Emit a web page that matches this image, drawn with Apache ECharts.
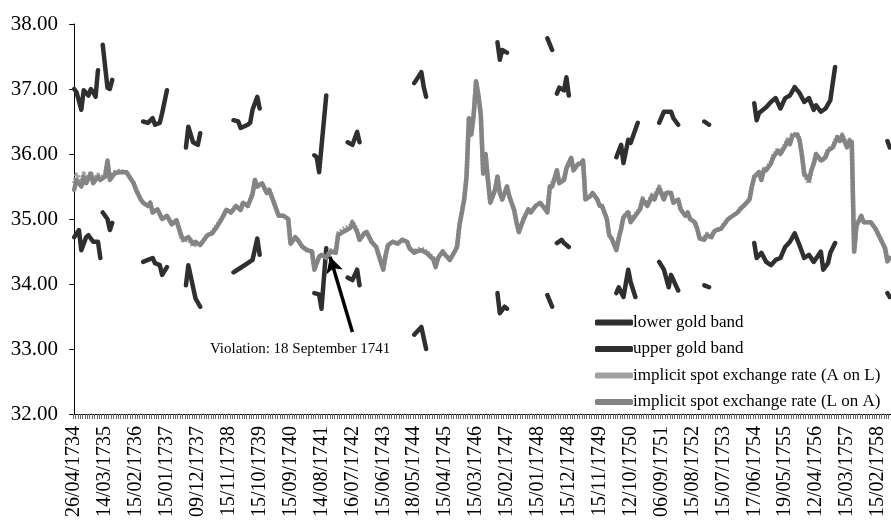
<!DOCTYPE html>
<html><head><meta charset="utf-8">
<script src="https://cdn.jsdelivr.net/npm/echarts@6/dist/echarts.min.js"></script>
<style>html,body{margin:0;padding:0;background:#fff}#c{width:891px;height:525px}</style>
</head><body><div id="c"></div>
<script>
// Tick labels (one every 13 observations)
const tickLabels = ['26/04/1734','14/03/1735','15/02/1736','15/01/1737','09/12/1737','15/11/1738','15/10/1739','15/09/1740','14/08/1741','16/07/1742','15/06/1743','18/05/1744','15/04/1745','15/03/1746','15/02/1747','15/01/1748','15/12/1748','15/11/1749','12/10/1750','06/09/1751','15/08/1752','15/07/1753','17/06/1754','19/05/1755','12/04/1756','15/03/1757','15/02/1758'];
const nObs = 344;
const labelStep = 13;

// [observation index, value]
const spotLonA = [[0,35.45],[1,35.6],[3,35.5],[4,35.65],[5,35.55],[7,35.7],[8,35.55],[10,35.65],[11,35.6],[13,35.65],[14,35.9],[15,35.6],[17,35.7],[19,35.72],[22,35.72],[25,35.55],[26,35.45],[28,35.3],[29,35.25],[31,35.2],[32,35.25],[33,35.1],[35,35.15],[37,35.0],[39,35.05],[41,34.92],[43,34.98],[45,34.75],[46,34.68],[48,34.72],[50,34.62],[51,34.65],[53,34.6],[55,34.7],[56,34.75],[58,34.78],[60,34.88],[62,35.0],[64,35.14],[66,35.1],[68,35.2],[70,35.14],[71,35.25],[73,35.2],[75,35.38],[76,35.6],[77,35.5],[79,35.55],[81,35.4],[82,35.45],[84,35.25],[86,35.05],[88,35.05],[90,35.0],[91,34.62],[93,34.72],[94,34.68],[96,34.57],[98,34.52],[100,34.5],[101,34.22],[103,34.42],[104,34.45],[106,34.4],[108,34.5],[110,34.48],[111,34.75],[113,34.8],[114,34.82],[116,34.86],[117,34.94],[119,34.8],[120,34.68],[122,34.78],[123,34.8],[125,34.65],[127,34.57],[128,34.45],[130,34.22],[131,34.45],[132,34.6],[134,34.65],[136,34.62],[138,34.68],[140,34.65],[141,34.55],[143,34.48],[144,34.5],[146,34.52],[148,34.48],[149,34.45],[151,34.38],[152,34.26],[153,34.4],[155,34.5],[156,34.45],[158,34.37],[160,34.5],[161,34.57],[162,34.9],[164,35.3],[165,35.65],[166,36.55],[167,36.3],[168,36.6],[169,37.12],[170,36.9],[171,36.6],[172,35.7],[173,36.0],[174,35.6],[175,35.25],[177,35.45],[178,35.65],[179,35.4],[180,35.3],[182,35.5],[183,35.35],[185,35.14],[186,34.95],[187,34.8],[189,35.0],[191,35.15],[192,35.1],[194,35.2],[196,35.25],[197,35.2],[199,35.1],[200,35.5],[201,35.5],[203,35.75],[204,35.55],[206,35.6],[207,35.78],[209,35.94],[210,35.75],[212,35.85],[213,35.85],[214,35.9],[215,35.3],[217,35.35],[218,35.4],[220,35.3],[221,35.2],[222,35.2],[224,35.0],[225,34.75],[226,34.7],[228,34.52],[229,34.7],[230,34.85],[231,35.03],[233,35.1],[234,34.95],[236,35.05],[238,35.15],[239,35.3],[241,35.2],[243,35.35],[244,35.3],[245,35.4],[246,35.47],[248,35.3],[249,35.4],[251,35.4],[252,35.25],[254,35.3],[255,35.15],[257,35.05],[258,35.1],[259,35.0],[261,34.95],[262,34.85],[263,34.7],[265,34.68],[266,34.75],[268,34.72],[269,34.8],[270,34.83],[272,34.85],[274,34.95],[275,35.0],[277,35.05],[279,35.1],[280,35.15],[282,35.22],[284,35.3],[285,35.5],[286,35.65],[288,35.72],[289,35.6],[290,35.75],[291,35.75],[293,35.85],[294,35.95],[296,36.05],[297,36.0],[299,36.12],[300,36.2],[301,36.15],[302,36.28],[304,36.3],[305,36.22],[306,36.0],[307,35.7],[309,35.6],[310,35.75],[311,35.85],[312,36.0],[314,35.9],[315,35.92],[316,35.95],[317,36.05],[319,36.1],[321,36.26],[322,36.2],[323,36.28],[325,36.1],[326,36.2],[327,36.18],[328,34.5],[329,34.9],[331,35.05],[332,34.95],[334,34.95],[335,34.95],[337,34.85],[339,34.7],[341,34.55],[342,34.35],[343,34.4]];

const spotAonL = [[0,35.55],[1,35.68],[3,35.58],[4,35.7],[5,35.6],[7,35.72],[8,35.6],[10,35.68],[11,35.62],[13,35.68],[14,35.88],[15,35.62],[17,35.72],[19,35.74],[22,35.72],[25,35.55],[26,35.45],[28,35.3],[29,35.25],[31,35.2],[32,35.25],[33,35.1],[35,35.15],[37,35.0],[39,35.05],[41,34.92],[43,34.98],[45,34.72],[46,34.65],[48,34.7],[50,34.58],[51,34.62],[53,34.6],[55,34.7],[56,34.75],[58,34.8],[60,34.9],[62,35.0],[64,35.14],[66,35.1],[68,35.2],[70,35.14],[71,35.25],[73,35.2],[75,35.4],[76,35.6],[77,35.5],[79,35.55],[81,35.4],[82,35.45],[84,35.25],[86,35.05],[88,35.05],[90,35.0],[91,34.62],[93,34.72],[94,34.68],[96,34.57],[98,34.52],[100,34.5],[101,34.25],[103,34.42],[104,34.45],[106,34.42],[108,34.52],[110,34.5],[111,34.78],[113,34.84],[114,34.86],[116,34.9],[117,34.96],[119,34.82],[120,34.68],[122,34.78],[123,34.8],[125,34.65],[127,34.57],[128,34.45],[130,34.24],[131,34.45],[132,34.6],[134,34.65],[136,34.62],[138,34.68],[140,34.65],[141,34.55],[143,34.5],[144,34.52],[146,34.55],[148,34.5],[149,34.47],[151,34.4],[152,34.28],[153,34.4],[155,34.5],[156,34.45],[158,34.37],[160,34.5],[161,34.57],[162,34.9],[164,35.3],[165,35.65],[166,36.55],[167,36.3],[168,36.6],[169,37.12],[170,36.9],[171,36.6],[172,35.7],[173,36.0],[174,35.6],[175,35.25],[177,35.45],[178,35.65],[179,35.4],[180,35.3],[182,35.5],[183,35.35],[185,35.14],[186,34.95],[187,34.8],[189,35.0],[191,35.15],[192,35.1],[194,35.2],[196,35.25],[197,35.2],[199,35.15],[200,35.45],[201,35.55],[203,35.72],[204,35.55],[206,35.62],[207,35.78],[209,35.94],[210,35.75],[212,35.85],[213,35.85],[214,35.9],[215,35.3],[217,35.35],[218,35.4],[220,35.3],[221,35.2],[222,35.2],[224,35.0],[225,34.75],[226,34.7],[228,34.55],[229,34.72],[230,34.85],[231,35.03],[233,35.12],[234,34.97],[236,35.07],[238,35.17],[239,35.32],[241,35.22],[243,35.37],[244,35.32],[245,35.42],[246,35.5],[248,35.32],[249,35.42],[251,35.4],[252,35.25],[254,35.3],[255,35.15],[257,35.05],[258,35.1],[259,35.0],[261,34.95],[262,34.85],[263,34.72],[265,34.7],[266,34.77],[268,34.74],[269,34.8],[270,34.83],[272,34.85],[274,34.95],[275,35.0],[277,35.05],[279,35.1],[280,35.15],[282,35.22],[284,35.3],[285,35.5],[286,35.65],[288,35.72],[289,35.62],[290,35.77],[291,35.77],[293,35.88],[294,35.98],[296,36.08],[297,36.02],[299,36.15],[300,36.22],[301,36.18],[302,36.3],[304,36.32],[305,36.22],[306,35.98],[307,35.68],[309,35.55],[310,35.75],[311,35.85],[312,36.0],[314,35.9],[315,35.92],[316,35.97],[317,36.07],[319,36.12],[321,36.28],[322,36.22],[323,36.3],[325,36.12],[326,36.22],[327,36.18],[328,34.5],[329,34.9],[331,35.05],[332,34.95],[334,34.95],[335,34.95],[337,34.85],[339,34.7],[341,34.55],[342,34.35],[343,34.4]];

// Gold band segments (gaps between them)
const upperBand = [
  [[0,37.0],[1,36.95],[3,36.68],[4,36.98],[6,36.9],[7,37.0],[8,36.95],[9,36.88],[10,37.29]],
  [[12,37.68],[14,37.02],[15,37.0],[16,37.14]],
  [[29,36.5],[31,36.48],[33,36.55],[34,36.45],[36,36.48],[37,36.63],[39,36.98]],
  [[47,36.1],[48,36.42],[50,36.18],[52,36.14],[53,36.32]],
  [[67,36.52],[69,36.5],[70,36.4],[73,36.45],[74,36.48],[75,36.68],[77,36.88],[78,36.7]],
  [[101,35.98],[102,35.95],[103,35.72],[106,36.9]],
  [[115,36.18],[117,36.14],[119,36.34],[120,36.18]],
  [[143,37.09],[146,37.26],[147,37.03],[148,36.88]],
  [[178,37.72],[179,37.45],[180,37.6],[182,37.56]],
  [[199,37.78],[201,37.6]],
  [[203,36.93],[204,37.02],[206,36.98],[207,37.18],[208,36.9]],
  [[228,35.95],[230,36.14],[231,35.86],[233,36.22],[234,36.17],[237,36.48]],
  [[246,36.48],[248,36.65],[251,36.65],[252,36.55],[254,36.45]],
  [[265,36.5],[267,36.45]],
  [[286,36.78],[287,36.52],[288,36.63],[291,36.72],[293,36.8],[295,36.86],[297,36.7],[299,36.86],[301,36.9],[303,37.03],[305,36.94],[307,36.8],[309,36.86],[311,36.68],[312,36.75],[314,36.65],[316,36.7],[318,36.83],[319,37.09],[320,37.34]],
  [[342,36.2],[343,36.1]]
];
const lowerBand = [
  [[0,34.72],[2,34.83],[3,34.52],[5,34.72],[6,34.75],[8,34.65],[10,34.65],[11,34.4]],
  [[12,35.1],[14,35.0],[15,34.83],[16,34.94]],
  [[29,34.34],[31,34.37],[33,34.4],[34,34.32],[36,34.29],[37,34.14],[39,34.26]],
  [[47,33.98],[48,34.29],[50,33.95],[51,33.78],[53,33.65]],
  [[67,34.18],[70,34.25],[73,34.32],[75,34.37],[77,34.7],[78,34.45]],
  [[101,33.86],[103,33.84],[104,33.62],[106,34.55]],
  [[115,34.1],[117,34.06],[119,34.22],[120,33.98]],
  [[143,33.22],[146,33.34],[147,33.17],[148,33.0]],
  [[178,33.86],[179,33.55],[181,33.65],[182,33.62]],
  [[199,33.83],[201,33.65]],
  [[203,34.63],[205,34.68],[206,34.63],[208,34.57]],
  [[228,33.86],[229,33.95],[231,33.8],[233,34.22],[234,34.03],[236,33.8]],
  [[246,34.34],[248,34.22],[250,33.95],[251,34.14],[254,33.9]],
  [[265,33.98],[267,33.95]],
  [[286,34.63],[287,34.4],[289,34.48],[291,34.34],[293,34.29],[295,34.37],[297,34.4],[299,34.57],[301,34.65],[303,34.78],[305,34.6],[307,34.4],[309,34.45],[311,34.34],[314,34.5],[315,34.22],[317,34.32],[318,34.48],[320,34.63]],
  [[342,33.86],[343,33.8]]
];

const yTicks = [32, 33, 34, 35, 36, 37, 38];
const annotationText = 'Violation: 18 September 1741';
const annotationAt = [95, 33.0];
const arrowFrom = [117, 33.26];
const arrowTo = [107.6, 34.42];

function joinSegments(segs) {
  const out = [];
  segs.forEach((s, k) => {
    if (k > 0) out.push([s[0][0] - 0.5, '-']);
    s.forEach(p => out.push(p));
  });
  return out;
}

const categories = Array.from({length: nObs}, (_, i) =>
  (i % labelStep === 0 && tickLabels[i / labelStep]) ? tickLabels[i / labelStep] : '');

const serif = '"Liberation Serif", "Times New Roman", serif';
const chart = echarts.init(document.getElementById('c'));
chart.setOption({
  animation: false,
  backgroundColor: '#fff',
  grid: {left: 73, right: 0, top: 24, bottom: 111, containLabel: false},
  legend: {
    orient: 'vertical', left: 590, top: 309, itemGap: 9.5, itemWidth: 38, itemHeight: 6,
    icon: 'roundRect',
    textStyle: {fontFamily: serif, fontSize: 17, lineHeight: 17, color: '#000', padding: [0,0,0,-5]},
    data: ['lower gold band', 'upper gold band', 'implicit spot exchange rate (A on L)', 'implicit spot exchange rate (L on A)']
  },
  xAxis: [{
    type: 'category', data: categories, boundaryGap: true,
    axisLine: {lineStyle: {color: '#000', width: 1}},
    axisTick: {show: true, interval: 0, length: 5, lineStyle: {color: '#666', width: 1}},
    axisLabel: {interval: (i) => i % labelStep === 0, rotate: 90, margin: 12, fontFamily: serif, fontSize: 20, color: '#000'},
    splitLine: {show: false}
  }, {
    type: 'value', min: -0.5, max: nObs - 0.5, show: false
  }],
  yAxis: {
    type: 'value', min: yTicks[0], max: yTicks[yTicks.length - 1], interval: 1,
    axisLine: {show: true, lineStyle: {color: '#000', width: 1}},
    axisTick: {show: true, length: 5, lineStyle: {color: '#000'}},
    axisLabel: {formatter: v => v.toFixed(2), fontFamily: serif, fontSize: 21, color: '#000', margin: 15},
    splitLine: {show: false}
  },
  series: [{
    name: 'lower gold band', type: 'line', xAxisIndex: 1, showSymbol: false, symbol: 'none',
    connectNulls: false, data: joinSegments(lowerBand),
    lineStyle: {color: '#2f2f2f', width: 4.5, cap: 'round', join: 'round'}, itemStyle: {color: '#2f2f2f'}
  }, {
    name: 'upper gold band', type: 'line', xAxisIndex: 1, showSymbol: false, symbol: 'none',
    connectNulls: false, data: joinSegments(upperBand),
    lineStyle: {color: '#2f2f2f', width: 4.5, cap: 'round', join: 'round'}, itemStyle: {color: '#2f2f2f'}
  }, {
    name: 'implicit spot exchange rate (A on L)', type: 'line', xAxisIndex: 1, showSymbol: false, symbol: 'none',
    data: spotAonL,
    lineStyle: {color: '#a0a0a0', width: 4.5, type: [2, 1.5], join: 'round'}, itemStyle: {color: '#a0a0a0'}
  }, {
    name: 'implicit spot exchange rate (L on A)', type: 'line', xAxisIndex: 1, showSymbol: false, symbol: 'none',
    data: spotLonA,
    lineStyle: {color: '#848484', width: 4.5, cap: 'round', join: 'round'}, itemStyle: {color: '#848484'},
    markLine: {
      silent: true, animation: false, symbol: ['none', 'arrow'], symbolSize: [13, 16],
      lineStyle: {color: '#000', width: 3.5, type: 'solid'},
      label: {show: false},
      data: [[{coord: arrowFrom}, {coord: arrowTo}]]
    },
    markPoint: {
      silent: true, symbol: 'rect', symbolSize: 1, itemStyle: {color: 'rgba(0,0,0,0)'},
      label: {show: true, position: 'inside', formatter: annotationText, fontFamily: serif, fontSize: 15, color: '#000'},
      data: [{coord: annotationAt}]
    }
  }]
});
</script></body></html>
